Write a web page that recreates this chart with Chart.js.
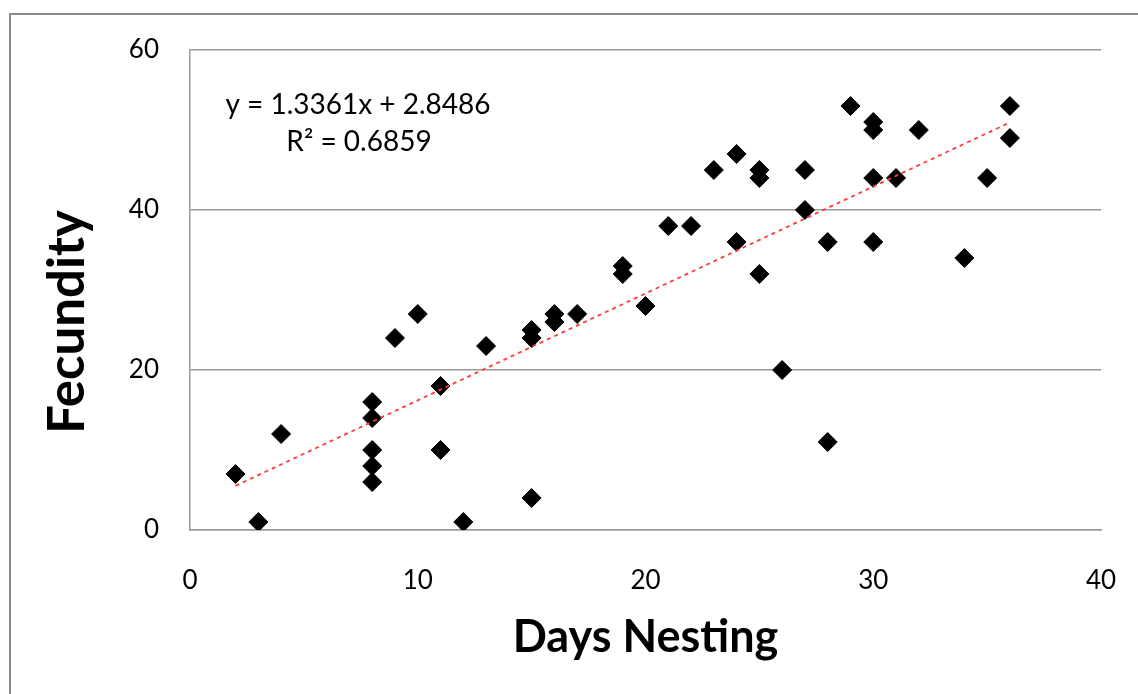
<!DOCTYPE html>
<html>
<head>
<meta charset="utf-8">
<script src="https://cdn.jsdelivr.net/npm/chart.js@4"></script>
<style>
  html, body { margin: 0; padding: 0; background: #fff; overflow: hidden; }
  #wrap { width: 1138px; height: 694px; }
</style>
</head>
<body>
<div id="wrap"><canvas id="myChart" width="1138" height="694"></canvas></div>
<script>
// days spent nesting (x) and fecundity (y)
const daysNesting = [2, 3, 4, 8, 8, 8, 8, 8, 9, 10, 11, 11, 12, 13, 15, 15, 15, 16, 16, 17,
    19, 19, 20, 21, 22, 23, 24, 24, 25, 25, 25, 26, 27, 27, 28, 28, 29, 30, 30, 30, 30,
    31, 32, 34, 35, 36, 36]
const fecundity = [7, 1, 12, 16, 14, 10, 8, 6, 24, 27, 18, 10, 1, 23, 25, 24, 4, 27, 26, 27,
    33, 32, 28, 38, 38, 45, 47, 36, 45, 44, 32, 20, 45, 40, 36, 11, 53, 51, 50, 44, 36,
    44, 50, 34, 44, 53, 49]

// linear trend line as given on the chart
const slope = 1.3361
const intercept = 2.8486
const r2 = 0.6859

const xTicks = [0, 10, 20, 30, 40]
const yTicks = [0, 20, 40, 60]

const points = daysNesting.map((d, i) => ({ x: d, y: fecundity[i] }))
const xMin = Math.min(...daysNesting)
const xMax = Math.max(...daysNesting)
const trend = [xMin, xMax].map(x => ({ x: x, y: slope * x + intercept }))

const textPlugin = {
    id: 'excelText',
    beforeDraw(chart) {
        const ctx = chart.ctx
        ctx.save()
        ctx.fillStyle = '#fff'
        ctx.fillRect(0, 0, chart.width, chart.height)
        ctx.strokeStyle = '#8a8a8a'
        ctx.lineWidth = 2
        ctx.strokeRect(10, 14, chart.width + 50, chart.height + 50)
        ctx.restore()
    },
    afterDraw(chart) {
        const ctx = chart.ctx
        const a = chart.chartArea
        ctx.save()
        ctx.fillStyle = '#000'
        ctx.textAlign = 'center'
        ctx.textBaseline = 'alphabetic'

        ctx.font = 'bold 45px Lato'
        ctx.fillText('Days Nesting', (a.left + a.right) / 2, a.bottom + 122)

        ctx.save()
        ctx.translate(84, a.top + 272)
        ctx.rotate(-Math.PI / 2)
        ctx.font = 'bold 51px Lato'
        ctx.fillText('Fecundity', 0, 0)
        ctx.restore()

        ctx.font = '28px Lato'
        ctx.fillText('y = ' + slope + 'x + ' + intercept, a.left + 168, a.top + 64)
        ctx.fillText('R\u00B2 = ' + r2, a.left + 169, a.top + 101)
        ctx.restore()
    }
}

const data = {
    datasets: [{
        type: 'line',
        data: trend,
        borderColor: '#ff3b3b',
        borderWidth: 1.8,
        borderDash: [4, 4],
        pointRadius: 0,
        fill: false,
        order: 0
    }, {
        type: 'scatter',
        data: points,
        pointStyle: 'rectRot',
        pointRadius: 9.5,
        backgroundColor: '#000',
        borderColor: '#000',
        borderWidth: 1,
        order: 1
    }]
}

const config = {
    type: 'scatter',
    data: data,
    plugins: [textPlugin],
    options: {
        responsive: false,
        animation: false,
        layout: { padding: { top: 50, right: 37, left: 0, bottom: 0 } },
        plugins: { legend: { display: false }, tooltip: { enabled: false } },
        scales: {
            x: {
                type: 'linear',
                min: 0,
                max: 40,
                afterFit: s => { s.height = 164; s.paddingRight = 0; s.paddingLeft = 0 },
                afterBuildTicks: s => { s.ticks = xTicks.map(v => ({ value: v })) },
                grid: { display: false },
                border: { display: true, color: '#999', width: 1.5 },
                ticks: { color: '#000', padding: 27, font: { family: 'Lato', size: 26 } }
            },
            y: {
                type: 'linear',
                min: 0,
                max: 60,
                afterFit: s => { s.width = 190 },
                afterBuildTicks: s => { s.ticks = yTicks.map(v => ({ value: v })) },
                grid: { color: '#999', lineWidth: 1.5, drawTicks: false },
                border: { display: true, color: '#999', width: 1.5 },
                ticks: { color: '#000', padding: 31, font: { family: 'Lato', size: 26 } }
            }
        }
    }
}

const myChart = new Chart(document.getElementById('myChart').getContext('2d'), config)
</script>
</body>
</html>
